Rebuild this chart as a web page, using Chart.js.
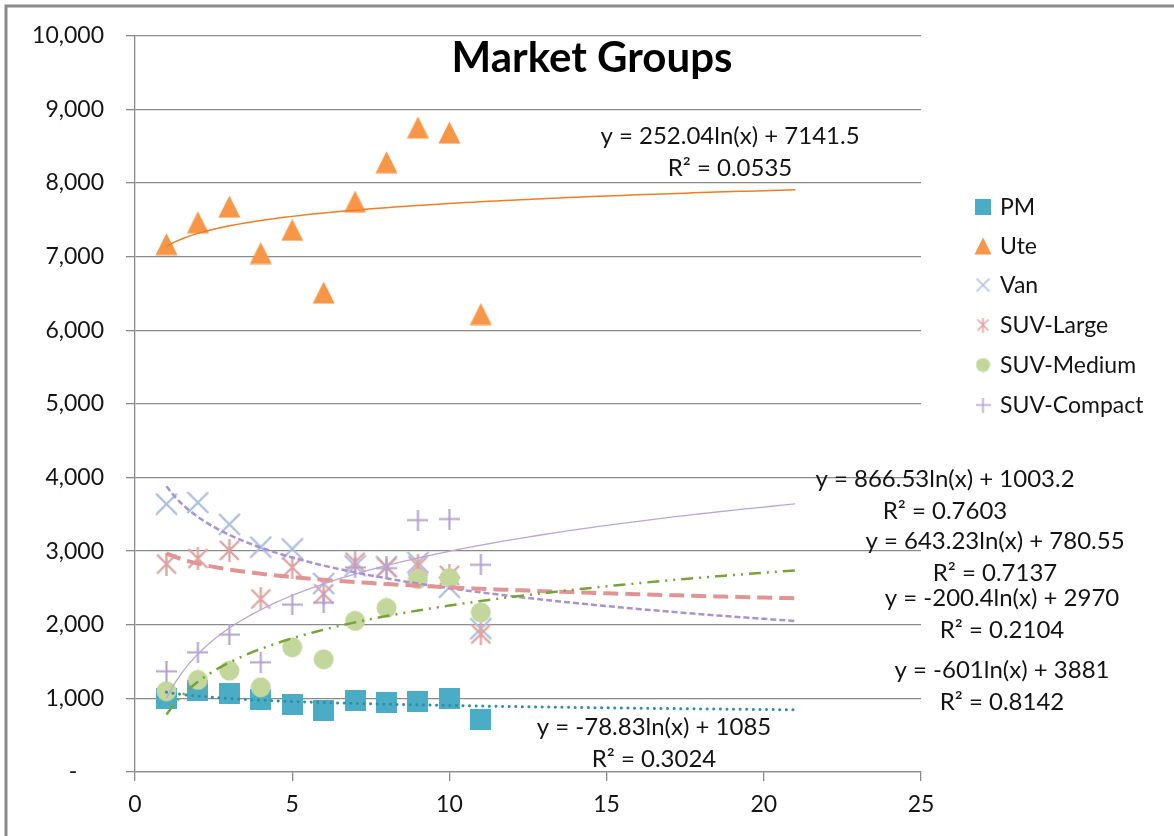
<!DOCTYPE html>
<html>
<head>
<meta charset="utf-8">
<script src="https://cdn.jsdelivr.net/npm/chart.js@4/dist/chart.umd.min.js"></script>
<style>
  body { margin: 0; background: #fff; }
  #wrap { width: 1174px; height: 836px; }
</style>
</head>
<body>
<div id="wrap"><canvas id="chart" width="1174" height="836"></canvas></div>
<script>
// period index on the x axis
const periods = [1, 2, 3, 4, 5, 6, 7, 8, 9, 10, 11];

// series values
const pm = [993, 1101, 1061, 990, 920, 837, 975, 941, 957, 993, 715];
const ute = [7171, 7467, 7680, 7049, 7365, 6513, 7748, 8283, 8756, 8686, 6221];
const van = [3640, 3660, 3365, 3055, 3030, 2560, 2800, 2790, 2845, 2510, 1945];
const suvLarge = [2825, 2900, 3010, 2350, 2780, 2420, 2850, 2780, 2800, 2670, 1875];
const suvMedium = [1097, 1251, 1377, 1151, 1694, 1531, 2052, 2228, 2621, 2635, 2168];
const suvCompact = [1368, 1626, 1866, 1490, 2273, 2300, 2780, 2770, 3422, 3436, 2815];

const seriesNames = ['PM', 'Ute', 'Van', 'SUV-Large', 'SUV-Medium', 'SUV-Compact'];

// log trendlines y = a*ln(x) + b, as printed on the chart (forecast to x = 21)
const trendA = [-78.83, 252.04, -601, -200.4, 643.23, 866.53];
const trendB = [1085, 7141.5, 3881, 2970, 780.55, 1003.2];
const trendR2 = ['0.3024', '0.0535', '0.8142', '0.2104', '0.7137', '0.7603'];
const trendEnd = 21;

const FONT = 'Lato, "Open Sans", sans-serif';
const TXT = '#141414';

// marker look per series
const markerType = ['square', 'triangle', 'x', 'asterisk', 'circle', 'plus'];
const markerColor = ['#4bacc6', '#f79646', '#a9bfe2', '#e0a2a1', '#c3d69b', '#b3a2cc'];

const trendStyle = [
  { color: '#2f8fa8', width: 3, dash: [0.1, 6.5], cap: 'round' },
  { color: '#f07d22', width: 1.5, dash: [], cap: 'butt' },
  { color: '#a893cf', width: 2.5, dash: [6, 3], cap: 'butt' },
  { color: '#e09594', width: 4, dash: [15, 7], cap: 'butt' },
  { color: '#77a33a', width: 2.5, dash: [12, 6, 2, 6, 2, 6], cap: 'butt' },
  { color: '#b8a6da', width: 1.3, dash: [], cap: 'butt' }
];

function markerCanvas(type, size, color) {
  const c = document.createElement('canvas');
  c.width = size; c.height = size;
  const g = c.getContext('2d');
  const m = size / 2;
  g.fillStyle = color;
  g.strokeStyle = color;
  g.lineWidth = Math.max(1.6, size / 10);
  g.beginPath();
  if (type === 'square') {
    g.fillRect(0, 0, size, size);
  } else if (type === 'triangle') {
    g.moveTo(m, 0.5);
    g.lineTo(size - 0.5, size - 0.5);
    g.lineTo(0.5, size - 0.5);
    g.closePath();
    g.fill();
  } else if (type === 'circle') {
    g.arc(m, m, m - 0.5, 0, Math.PI * 2);
    g.fill();
  } else if (type === 'x') {
    g.moveTo(1, 1); g.lineTo(size - 1, size - 1);
    g.moveTo(size - 1, 1); g.lineTo(1, size - 1);
    g.stroke();
  } else if (type === 'asterisk') {
    g.moveTo(2, 2); g.lineTo(size - 2, size - 2);
    g.moveTo(size - 2, 2); g.lineTo(2, size - 2);
    g.moveTo(m, 0); g.lineTo(m, size);
    g.stroke();
  } else if (type === 'plus') {
    g.moveTo(m, 0); g.lineTo(m, size);
    g.moveTo(0, m); g.lineTo(size, m);
    g.stroke();
  }
  return c;
}

const plotSizes = [21, 23, 23, 23, 21, 21];
const legendSizes = [16, 18, 15, 15, 15, 15];

const seriesData = [pm, ute, van, suvLarge, suvMedium, suvCompact];

const datasets = [];
seriesData.forEach((vals, i) => {
  datasets.push({
    type: 'scatter',
    label: seriesNames[i],
    data: periods.map((p, k) => ({ x: p, y: vals[k] })),
    pointStyle: markerCanvas(markerType[i], plotSizes[i], markerColor[i]),
    pointRadius: plotSizes[i] / 2,
    order: 20 - i
  });
});

// trendline curves, drawn on top of the markers
trendA.forEach((a, i) => {
  const pts = [];
  for (let x = 1; x <= trendEnd + 0.001; x += 0.25) {
    pts.push({ x: x, y: a * Math.log(x) + trendB[i] });
  }
  datasets.push({
    type: 'line',
    label: seriesNames[i] + ' trend',
    data: pts,
    borderColor: trendStyle[i].color,
    borderWidth: trendStyle[i].width,
    borderDash: trendStyle[i].dash,
    borderCapStyle: trendStyle[i].cap,
    pointRadius: 0,
    fill: false,
    tension: 0,
    order: 6 - i
  });
});

// where the equation labels sit: [center x, first line y]
const eqPos = [[654, 727], [730, 136], [1002, 670], [1002, 598], [995, 541], [945, 479]];

function fmtEq(a, b) {
  const sign = b < 0 ? '- ' : '+ ';
  return 'y = ' + a + 'ln(x) ' + sign + Math.abs(b);
}

const decor = {
  id: 'decor',
  beforeDraw(chart) {
    const ctx = chart.ctx;
    ctx.save();
    ctx.fillStyle = '#fff';
    ctx.fillRect(0, 0, chart.width, chart.height);
    ctx.strokeStyle = '#8a8a8a';
    ctx.lineWidth = 3;
    ctx.strokeRect(6, 6, chart.width + 20, chart.height + 20);
    ctx.restore();
  },
  afterDraw(chart) {
    const ctx = chart.ctx;
    ctx.save();
    // title
    ctx.fillStyle = '#000';
    ctx.font = 'bold 42px ' + FONT;
    ctx.textAlign = 'center';
    ctx.textBaseline = 'alphabetic';
    ctx.fillText('Market Groups', 592, 72);

    // equations
    ctx.fillStyle = TXT;
    ctx.font = '24px ' + FONT;
    ctx.textBaseline = 'middle';
    trendA.forEach((a, i) => {
      const [cx, cy] = eqPos[i];
      ctx.fillText(fmtEq(a, trendB[i]), cx, cy);
      ctx.fillText('R\u00b2 = ' + trendR2[i], cx, cy + 32);
    });

    // legend
    ctx.textAlign = 'left';
    ctx.font = '23px ' + FONT;
    const legY = [207, 246, 285, 325, 365, 405];
    seriesNames.forEach((name, i) => {
      const mk = markerCanvas(markerType[i], legendSizes[i], markerColor[i]);
      ctx.drawImage(mk, 983 - mk.width / 2, legY[i] - mk.height / 2);
      ctx.fillStyle = TXT;
      ctx.fillText(name, 1000, legY[i] + 1);
    });
    ctx.restore();
  }
};

new Chart(document.getElementById('chart'), {
  type: 'scatter',
  data: { datasets: datasets },
  options: {
    responsive: false,
    animation: false,
    layout: { padding: { top: 35, right: 253, left: 0, bottom: 0 } },
    plugins: {
      legend: { display: false },
      tooltip: { enabled: false },
      title: { display: false }
    },
    scales: {
      x: {
        type: 'linear',
        min: 0, max: 25,
        afterFit(scale) { scale.height = 64; },
        ticks: { stepSize: 5, color: TXT, font: { family: FONT, size: 23 }, padding: 10 },
        grid: { drawOnChartArea: false, drawTicks: true, tickLength: 9, color: '#8a8a8a', lineWidth: 1.3 },
        border: { color: '#8a8a8a', width: 1.3 }
      },
      y: {
        min: 0, max: 10000,
        afterFit(scale) { scale.width = 135; },
        ticks: {
          stepSize: 1000,
          color: TXT,
          font: { family: FONT, size: 23 },
          padding: 22,
          callback: v => v === 0 ? '-\u2007\u2007' : v.toLocaleString('en-US')
        },
        grid: { color: '#8a8a8a', lineWidth: 1.3, tickLength: 9 },
        border: { color: '#8a8a8a', width: 1.3 }
      }
    }
  },
  plugins: [decor]
});
</script>
</body>
</html>
